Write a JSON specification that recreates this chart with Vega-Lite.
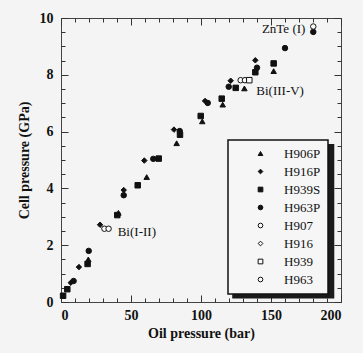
{
  "$schema": "https://vega.github.io/schema/vega-lite/v6.json",
  "width": 280,
  "height": 284,
  "autosize": {"type": "none"},
  "padding": {"left": 61, "top": 18, "right": 22, "bottom": 51},
  "background": "#f4f4f4",
  "datasets": {
    "points": [
      {"series": "H939S", "x": 1.5, "y": 0.22},
      {"series": "H939S", "x": 4.5, "y": 0.45},
      {"series": "H939S", "x": 19, "y": 1.34},
      {"series": "H939S", "x": 40.2, "y": 3.06},
      {"series": "H939S", "x": 54.8, "y": 4.11},
      {"series": "H939S", "x": 69.8, "y": 5.05},
      {"series": "H939S", "x": 85, "y": 5.89},
      {"series": "H939S", "x": 99.8, "y": 6.55},
      {"series": "H939S", "x": 114.8, "y": 7.16},
      {"series": "H939S", "x": 124.8, "y": 7.54},
      {"series": "H939S", "x": 138.8, "y": 8.09},
      {"series": "H939S", "x": 151.9, "y": 8.4},
      {"series": "H906P", "x": 19.5, "y": 1.5},
      {"series": "H906P", "x": 41, "y": 3.14},
      {"series": "H906P", "x": 61.2, "y": 4.4},
      {"series": "H906P", "x": 82.6, "y": 5.59},
      {"series": "H906P", "x": 100.9, "y": 6.36},
      {"series": "H906P", "x": 115.5, "y": 6.95},
      {"series": "H906P", "x": 131, "y": 7.52},
      {"series": "H906P", "x": 151.9, "y": 8.13},
      {"series": "H916P", "x": 7, "y": 0.68},
      {"series": "H916P", "x": 12.8, "y": 1.23},
      {"series": "H916P", "x": 27.9, "y": 2.72},
      {"series": "H916P", "x": 44.8, "y": 3.94},
      {"series": "H916P", "x": 59.5, "y": 4.98},
      {"series": "H916P", "x": 80.7, "y": 6.07},
      {"series": "H916P", "x": 102.9, "y": 7.08},
      {"series": "H916P", "x": 121.2, "y": 7.79},
      {"series": "H916P", "x": 138.8, "y": 8.51},
      {"series": "H963P", "x": 9, "y": 0.74},
      {"series": "H963P", "x": 19.8, "y": 1.8},
      {"series": "H963P", "x": 44.8, "y": 3.76},
      {"series": "H963P", "x": 65.9, "y": 5.04},
      {"series": "H963P", "x": 84.8, "y": 6.02},
      {"series": "H963P", "x": 104.8, "y": 7.01},
      {"series": "H963P", "x": 119.8, "y": 7.58},
      {"series": "H963P", "x": 140, "y": 8.25},
      {"series": "H963P", "x": 160, "y": 8.94},
      {"series": "H963P", "x": 180.2, "y": 9.51},
      {"series": "H907", "x": 31, "y": 2.58},
      {"series": "H963", "x": 34, "y": 2.58},
      {"series": "H907", "x": 128.3, "y": 7.81},
      {"series": "H963", "x": 131.4, "y": 7.81},
      {"series": "H939", "x": 134.5, "y": 7.81},
      {"series": "H963", "x": 180.2, "y": 9.7}
    ],
    "notes": [
      {"label": "Bi(I-II)", "x": 40.5, "y": 2.45},
      {"label": "Bi(III-V)", "x": 139.5, "y": 7.42},
      {"label": "ZnTe (I)", "x": 143.5, "y": 9.62}
    ],
    "shadow": [
      {"x": 122.3, "x2": 195.2, "y": 5.56, "y2": 0.12}
    ]
  },
  "layer": [
    {
      "data": {"name": "shadow"},
      "mark": {"type": "rect", "color": "#1a1a1a"},
      "encoding": {
        "x": {"field": "x", "type": "quantitative", "scale": {"domain": [0, 200], "nice": false},
              "axis": {"orient": "bottom", "values": [0, 50, 100, 150, 200], "tickSize": -7, "labelPadding": 13, "title": "Oil pressure (bar)", "titlePadding": 4}},
        "x2": {"field": "x2"},
        "y": {"field": "y", "type": "quantitative", "scale": {"domain": [0, 10], "nice": false},
              "axis": {"orient": "left", "values": [0, 2, 4, 6, 8, 10], "tickSize": -7, "labelPadding": 15, "title": "Cell pressure (GPa)", "titlePadding": 8}},
        "y2": {"field": "y2"}
      }
    },
    {
      "data": {"name": "points"},
      "mark": {"type": "point", "strokeWidth": 1, "opacity": 1, "fillOpacity": 1, "strokeOpacity": 1},
      "encoding": {
        "x": {"field": "x", "type": "quantitative", "scale": {"domain": [0, 200], "nice": false},
              "axis": {"orient": "bottom", "values": [10,20,30,40,60,70,80,90,110,120,130,140,160,170,180,190], "tickSize": -4, "labels": false, "title": null}},
        "y": {"field": "y", "type": "quantitative", "scale": {"domain": [0, 10], "nice": false},
              "axis": {"orient": "left", "values": [0.5,1,1.5,2.5,3,3.5,4.5,5,5.5,6.5,7,7.5,8.5,9,9.5], "tickSize": -4, "labels": false, "title": null}},
        "shape": {"field": "series", "type": "nominal",
                  "scale": {"domain": ["H906P","H916P","H939S","H963P","H907","H916","H939","H963"],
                            "range": ["triangle-up","diamond","square","circle","circle","diamond","square","circle"]},
                  "legend": {"title": null}},
        "fill": {"field": "series", "type": "nominal",
                 "scale": {"domain": ["H906P","H916P","H939S","H963P","H907","H916","H939","H963"],
                           "range": ["#111","#111","#111","#111","#fafafa","#fafafa","#fafafa","#fafafa"]},
                 "legend": {"title": null}},
        "stroke": {"field": "series", "type": "nominal",
                 "scale": {"domain": ["H906P","H916P","H939S","H963P","H907","H916","H939","H963"],
                           "range": ["#111","#111","#111","#111","#111","#111","#111","#111"]},
                 "legend": {"title": null}},
        "size": {"value": 30}
      }
    },
    {
      "data": {"name": "notes"},
      "mark": {"type": "text", "align": "left", "baseline": "middle", "font": "Liberation Serif", "fontSize": 13, "color": "#111"},
      "encoding": {
        "x": {"field": "x", "type": "quantitative", "scale": {"domain": [0, 200], "nice": false},
              "axis": {"orient": "top", "values": [0, 50, 100, 150, 200], "tickSize": -7, "labels": false, "title": null}},
        "y": {"field": "y", "type": "quantitative", "scale": {"domain": [0, 10], "nice": false},
              "axis": {"orient": "right", "values": [0, 2, 4, 6, 8, 10], "tickSize": -7, "labels": false, "title": null}},
        "text": {"field": "label"}
      }
    },
    {
      "data": {"name": "notes"},
      "mark": {"type": "text", "opacity": 0},
      "encoding": {
        "x": {"field": "x", "type": "quantitative", "scale": {"domain": [0, 200], "nice": false},
              "axis": {"orient": "top", "values": [10,20,30,40,60,70,80,90,110,120,130,140,160,170,180,190], "tickSize": -4, "labels": false, "title": null}},
        "y": {"field": "y", "type": "quantitative", "scale": {"domain": [0, 10], "nice": false},
              "axis": {"orient": "right", "values": [0.5,1,1.5,2.5,3,3.5,4.5,5,5.5,6.5,7,7.5,8.5,9,9.5], "tickSize": -4, "labels": false, "title": null}},
        "text": {"field": "label"}
      }
    }
  ],
  "resolve": {"axis": {"x": "independent", "y": "independent"}},
  "config": {
    "view": {"stroke": "#444", "strokeWidth": 1},
    "font": "Liberation Serif",
    "axis": {"grid": false, "domain": false, "tickColor": "#333", "tickWidth": 1, "labelColor": "#111", "titleColor": "#111", "labelFont": "Liberation Serif", "titleFont": "Liberation Serif", "labelFontWeight": "bold", "titleFontWeight": "bold", "labelFontSize": 14, "titleFontSize": 14},
    "legend": {"orient": "none", "legendX": 167, "legendY": 122, "strokeColor": "#111", "strokeWidth": 1.5, "fillColor": "#f6f6f6", "padding": 7, "symbolOffset": 19, "labelOffset": 17, "labelFont": "Liberation Serif", "labelFontSize": 13, "labelColor": "#111", "symbolSize": 22, "symbolStrokeWidth": 1, "rowPadding": 4, "labelLimit": 200}
  }
}
